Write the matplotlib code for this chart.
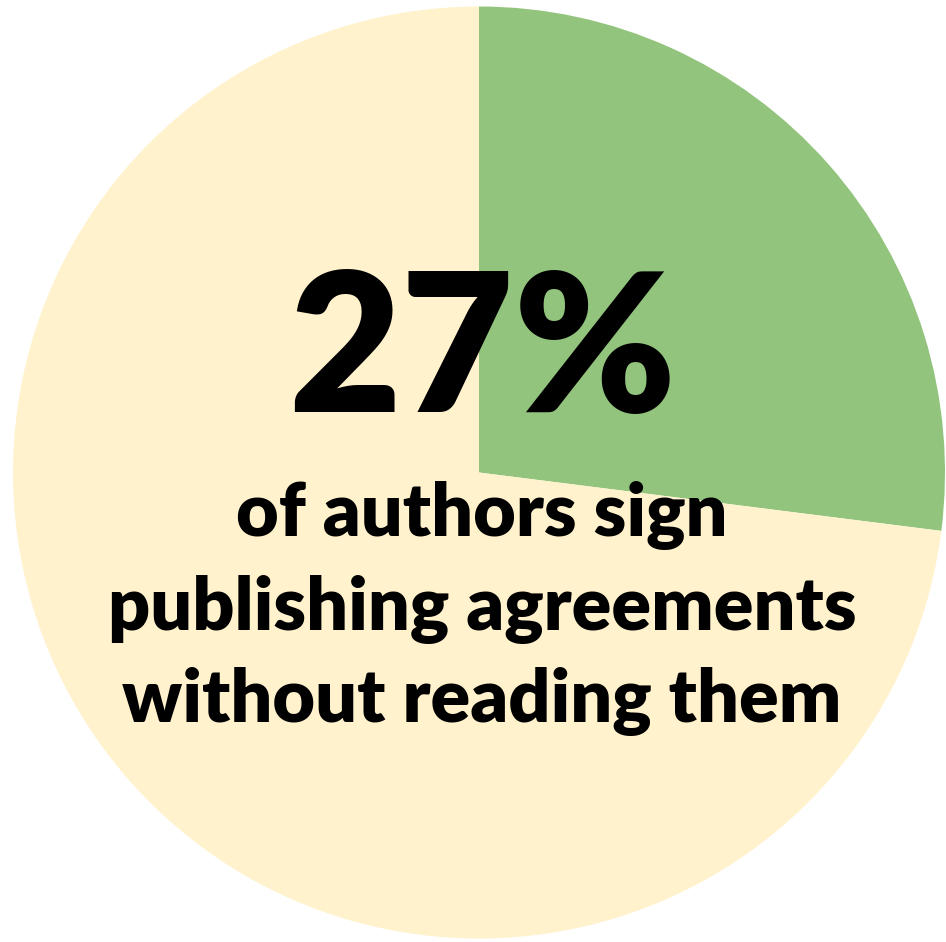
import matplotlib
matplotlib.use("Agg")
import matplotlib.pyplot as plt

labels = ["Sign without reading", "Read before signing"]
shares = [27, 73]
colors = ["#93C47D", "#FFF2CC"]
headline = "27%"
caption_lines = ["of authors sign", "publishing agreements", "without reading them"]

W, H = 946, 942
fig = plt.figure(figsize=(W / 100, H / 100), dpi=100)
fig.patch.set_facecolor("white")

# pie disc: centre (479, 472.5) px, radius 466 px
cx, cy, r = 479, 472.5, 466
ax = fig.add_axes([(cx - r) / W, (H - cy - r) / H, 2 * r / W, 2 * r / H])
ax.pie(shares, colors=colors, startangle=90, counterclock=False,
       radius=1.0, wedgeprops=dict(linewidth=0))
ax.set_xlim(-1, 1)
ax.set_ylim(-1, 1)
ax.set_aspect("auto")
ax.axis("off")

font = ["Lato", "DejaVu Sans"]
fig.text(482 / W, 1 - 412 / H, headline, ha="center", va="baseline",
         fontsize=140, fontweight="heavy", family=font, color="black")
for line, base in zip(caption_lines, [536, 630, 722]):
    fig.text(482 / W, 1 - base / H, line, ha="center", va="baseline",
             fontsize=53, fontweight="heavy", family=font, color="black")

fig.savefig("out.png", dpi=100, facecolor="white")
